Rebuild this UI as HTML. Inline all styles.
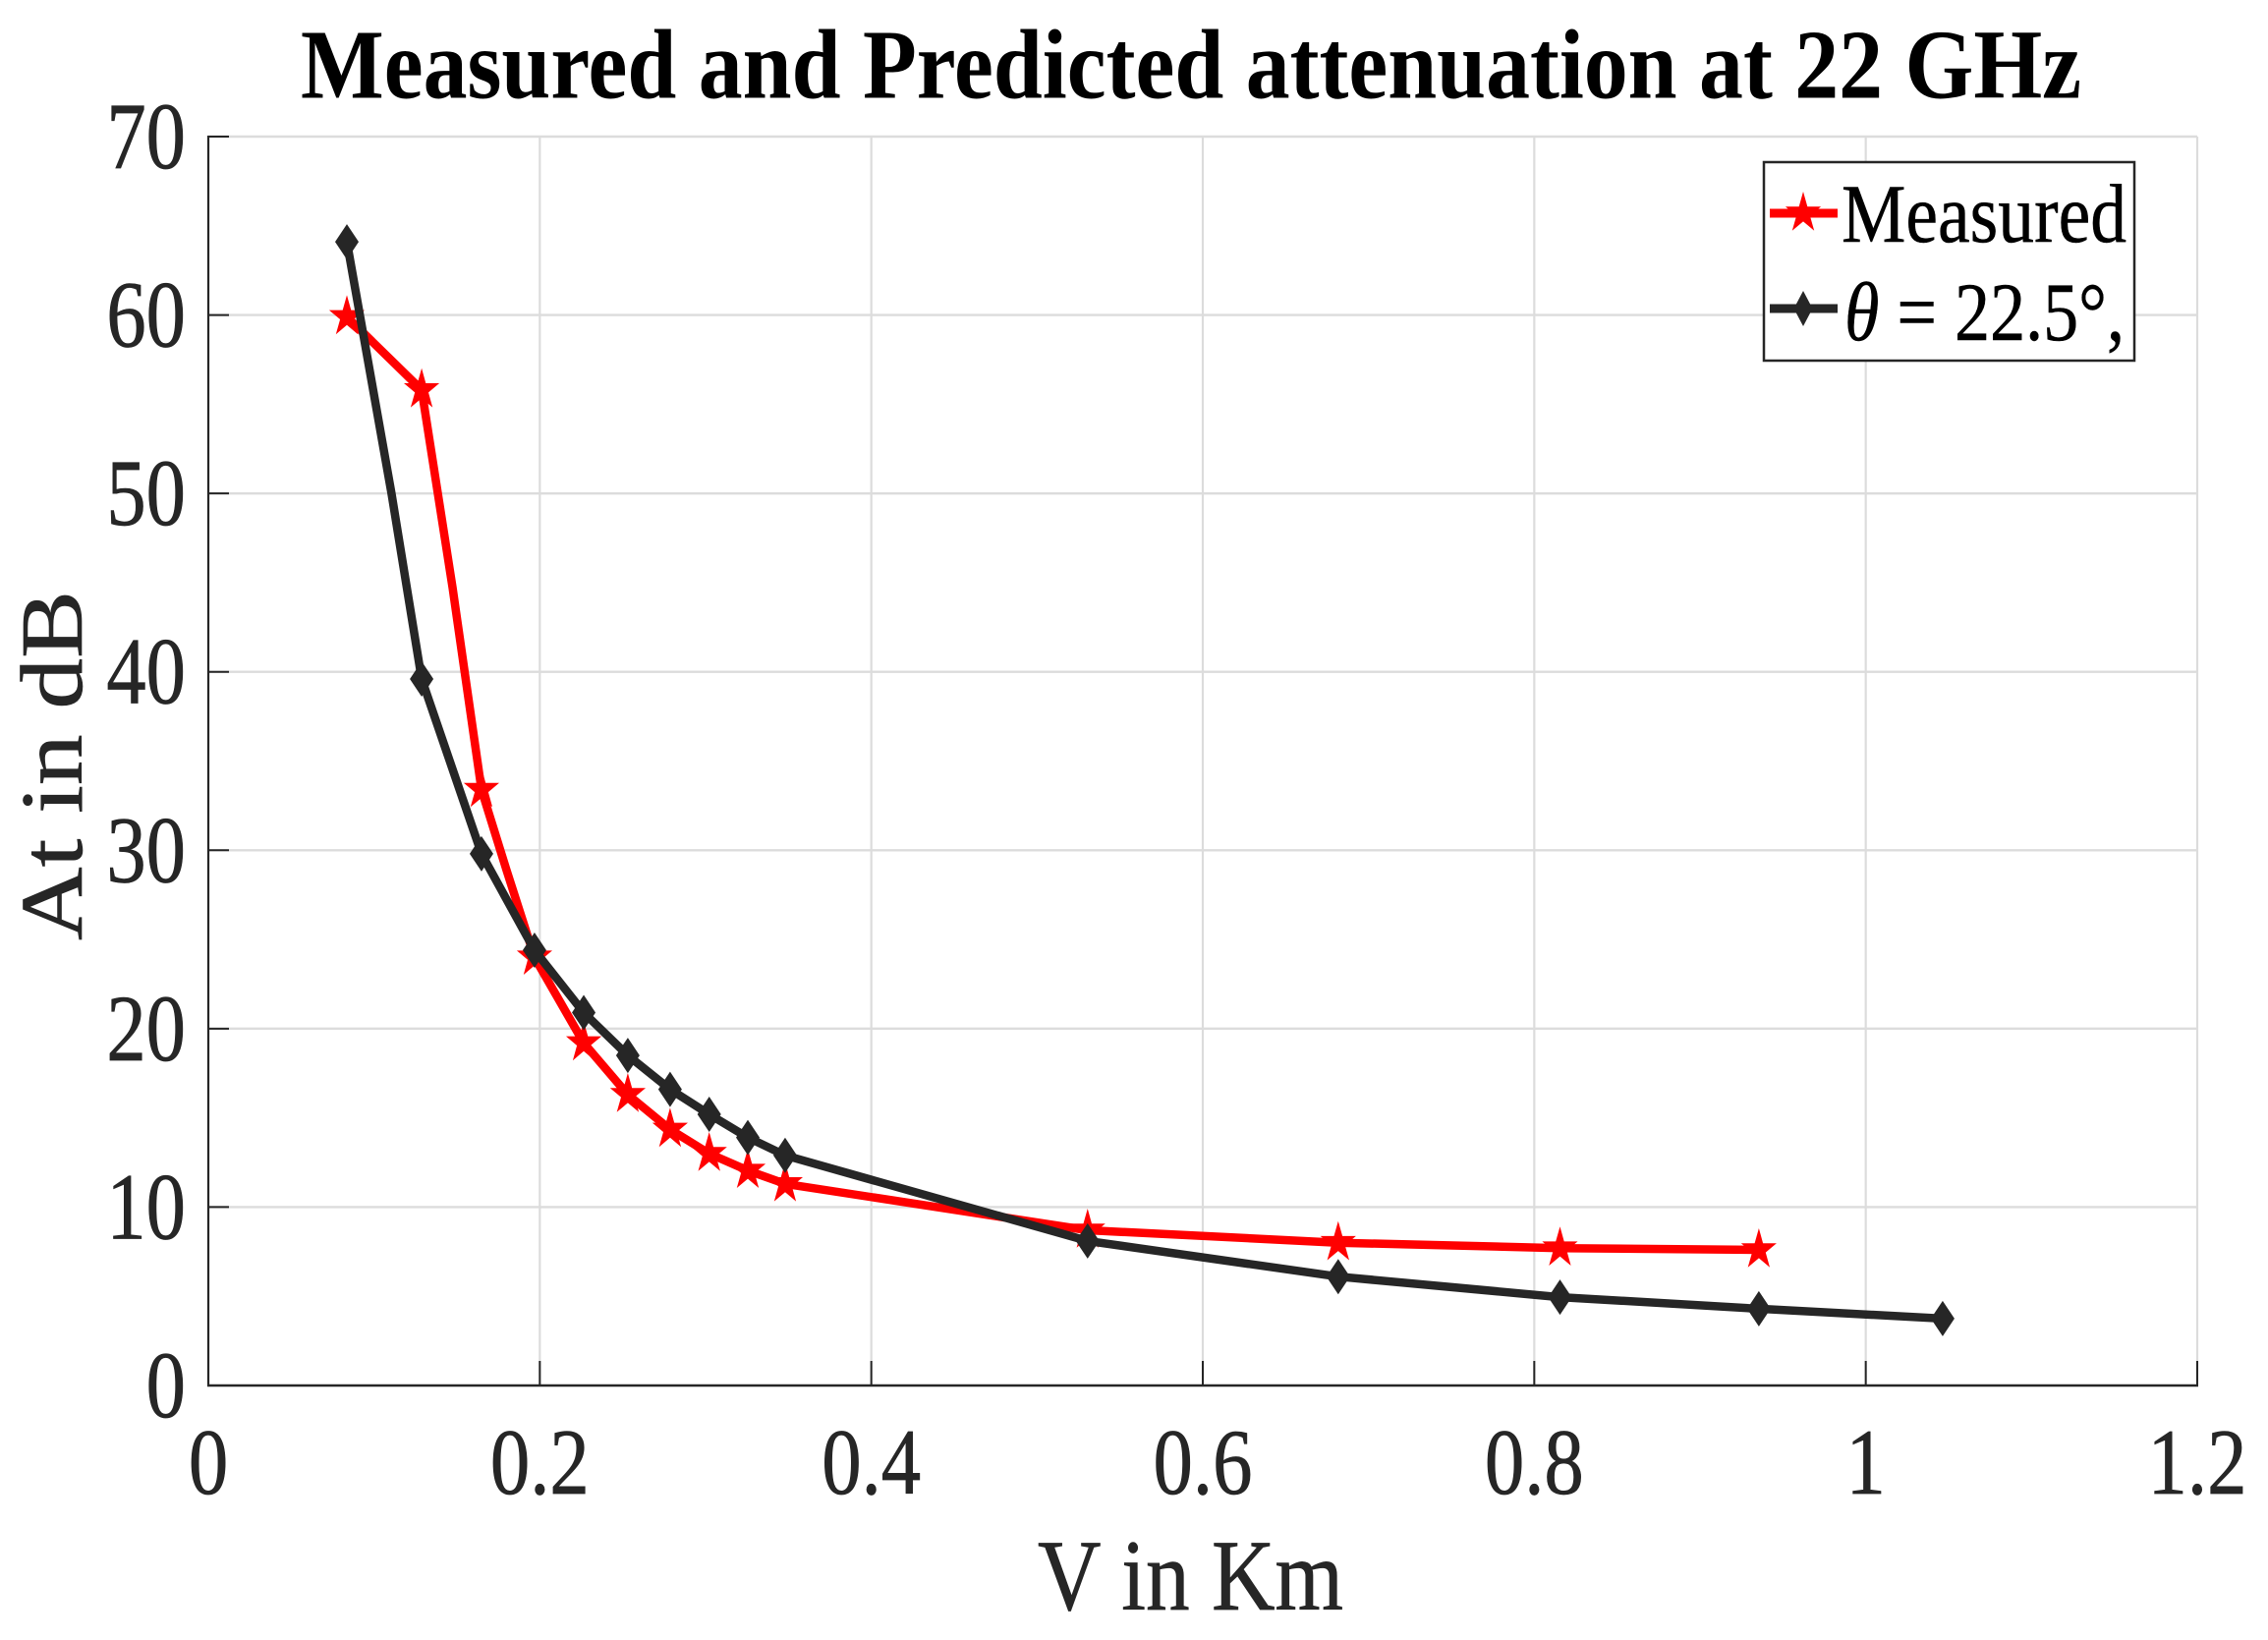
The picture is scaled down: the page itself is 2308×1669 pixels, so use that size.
<!DOCTYPE html>
<html lang="en">
<head>
<meta charset="utf-8">
<title>Measured and Predicted attenuation at 22 GHz</title>
<style>
html,body{margin:0;padding:0;background:#fff;}
svg{display:block;}
text{font-family:"Liberation Serif","Times New Roman",serif;}
</style>
</head>
<body>
<svg id="chart" xmlns="http://www.w3.org/2000/svg" width="2308" height="1669" viewBox="0 0 2308 1669">
  <rect x="0" y="0" width="2308" height="1669" fill="#ffffff"/>
  <g id="grid"></g>
  <g id="axes"></g>
  <g id="series"></g>
  <text x="306" y="99.5" font-size="101" font-weight="bold" fill="#000" textLength="1812" lengthAdjust="spacingAndGlyphs">Measured and Predicted attenuation at 22 GHz</text>
  <text x="1056" y="1638" font-size="103" fill="#262626" stroke="#262626" stroke-width="0.7" textLength="311" lengthAdjust="spacingAndGlyphs">V in Km</text>
  <text transform="translate(83,957) rotate(-90) scale(1,0.87)" font-size="103" fill="#262626" stroke="#262626" stroke-width="0.7" textLength="356" lengthAdjust="spacingAndGlyphs">At in dB</text>
  <g id="legend">
    <rect x="1795" y="165" width="377" height="202" fill="#fff" stroke="#262626" stroke-width="2.5"/>
    <line x1="1801" y1="217" x2="1870" y2="217" stroke="#ff0000" stroke-width="9"/>
    <polygon id="legend-star" fill="#ff0000"/>
    <text x="1874" y="246" font-size="85" fill="#000" stroke="#000" stroke-width="0.5" textLength="290" lengthAdjust="spacingAndGlyphs">Measured</text>
    <line x1="1801" y1="314" x2="1870" y2="314" stroke="#262626" stroke-width="9"/>
    <polygon id="legend-diamond" fill="#262626"/>
    <text x="1877" y="346" font-size="85" fill="#000" stroke="#000" stroke-width="0.5" textLength="285" lengthAdjust="spacingAndGlyphs"><tspan font-style="italic">θ</tspan> = 22.5°,</text>
  </g>
</svg>
<script>
const xTicks = [0, 0.2, 0.4, 0.6, 0.8, 1, 1.2];
const xTickLabels = ['0', '0.2', '0.4', '0.6', '0.8', '1', '1.2'];
const yTicks = [0, 10, 20, 30, 40, 50, 60, 70];
const yTickLabels = ['0', '10', '20', '30', '40', '50', '60', '70'];
const measuredX = [0.0836, 0.1287, 0.1648, 0.1968, 0.2265, 0.2531, 0.2786, 0.3022, 0.3255, 0.348, 0.5305, 0.6817, 0.8155, 0.9355];
const measuredY = [59.9, 55.8, 33.4, 24.0, 19.2, 16.3, 14.35, 13.0, 12.05, 11.3, 8.7, 8.0, 7.7, 7.6];
const predictedX = [0.0836, 0.1287, 0.1648, 0.1968, 0.2265, 0.2531, 0.2786, 0.3022, 0.3255, 0.348, 0.5305, 0.6817, 0.8155, 0.9355, 1.0464];
const predictedY = [64.1, 39.6, 29.8, 24.4, 20.9, 18.5, 16.6, 15.2, 13.9, 12.9, 8.1, 6.1, 4.95, 4.3, 3.75];
const measuredBendX = [0.1474, 0.1797];
const measuredBendY = [44.7, 28.95];
const predictedBendX = [0.1105];
const predictedBendY = [50.0];

const NS = 'http://www.w3.org/2000/svg';
const plot = {left: 212, right: 2236, top: 139, bottom: 1410};
const xDomain = [0, 1.2];
const yDomain = [0, 70];
function xScale(v) {
  return plot.left + (v - xDomain[0]) / (xDomain[1] - xDomain[0]) * (plot.right - plot.left);
}
function yScale(v) {
  return plot.bottom - (v - yDomain[0]) / (yDomain[1] - yDomain[0]) * (plot.bottom - plot.top);
}
function make(tag, attrs, parent) {
  const el = document.createElementNS(NS, tag);
  for (const k in attrs) el.setAttribute(k, attrs[k]);
  parent.appendChild(el);
  return el;
}
function starPoints(cx, cy, rx, ry) {
  const pts = [];
  for (let i = 0; i < 10; i++) {
    const a = -Math.PI / 2 + i * Math.PI / 5;
    const f = i % 2 === 0 ? 1 : 0.382;
    pts.push((cx + rx * f * Math.cos(a)).toFixed(1) + ',' + (cy + ry * f * Math.sin(a)).toFixed(1));
  }
  return pts.join(' ');
}
function diamondPoints(cx, cy, rx, ry) {
  return [[cx, cy - ry], [cx + rx, cy], [cx, cy + ry], [cx - rx, cy]].map(p => p.join(',')).join(' ');
}

const gridG = document.getElementById('grid');
const axesG = document.getElementById('axes');
const seriesG = document.getElementById('series');
const GRID = '#dcdcdc';
const AXIS = '#262626';

xTicks.forEach(function (t, i) {
  const x = xScale(t);
  if (t !== 0) {
    const g = make('line', {x1: x, y1: plot.top, x2: x, y2: plot.bottom, stroke: GRID, 'stroke-width': 2.2}, gridG);
    
    
  }
  const tick = make('line', {x1: x, y1: plot.bottom, x2: x, y2: plot.bottom - 25, stroke: AXIS, 'stroke-width': 2}, axesG);
  
  
  const label = make('text', {transform: 'translate(' + x + ',1520) scale(0.85,1)', 'text-anchor': 'middle', 'font-size': 95, fill: AXIS, stroke: AXIS, 'stroke-width': 0.7}, axesG);
  label.textContent = xTickLabels[i];
  
  
});

yTicks.forEach(function (t, i) {
  const y = yScale(t);
  if (t !== 0) {
    const g = make('line', {x1: plot.left, y1: y, x2: plot.right, y2: y, stroke: GRID, 'stroke-width': 2.4}, gridG);
    
    
  }
  const tick = make('line', {x1: plot.left, y1: y, x2: plot.left + 21, y2: y, stroke: AXIS, 'stroke-width': 2}, axesG);
  
  
  const label = make('text', {transform: 'translate(189,' + (y + 32) + ') scale(0.84,1)', 'text-anchor': 'end', 'font-size': 96, fill: AXIS, stroke: AXIS, 'stroke-width': 0.7}, axesG);
  label.textContent = yTickLabels[i];
  
  
});

const xAxisLine = make('line', {x1: plot.left - 1, y1: plot.bottom, x2: plot.right + 1, y2: plot.bottom, stroke: AXIS, 'stroke-width': 2.4}, axesG);


const yAxisLine = make('line', {x1: plot.left, y1: plot.top - 1, x2: plot.left, y2: plot.bottom + 1, stroke: AXIS, 'stroke-width': 2.2}, axesG);



function linePath(xs, ys, bendXs, bendYs) {
  const verts = xs.map(function (v, i) { return [v, ys[i]]; });
  bendXs.forEach(function (v, i) { verts.push([v, bendYs[i]]); });
  verts.sort(function (a, b) { return a[0] - b[0]; });
  return verts.map(function (p) { return xScale(p[0]).toFixed(1) + ',' + yScale(p[1]).toFixed(1); }).join(' ');
}

const measuredLine = make('polyline', {points: linePath(measuredX, measuredY, measuredBendX, measuredBendY), fill: 'none', stroke: '#ff0000', 'stroke-width': 8.5, 'stroke-linejoin': 'round'}, seriesG);


measuredX.forEach(function (v, i) {
  const m = make('polygon', {points: starPoints(xScale(v), yScale(measuredY[i]), 19, 22), fill: '#ff0000'}, seriesG);
  
  
});

const predictedLine = make('polyline', {points: linePath(predictedX, predictedY, predictedBendX, predictedBendY), fill: 'none', stroke: '#262626', 'stroke-width': 8.5, 'stroke-linejoin': 'round'}, seriesG);


predictedX.forEach(function (v, i) {
  const m = make('polygon', {points: diamondPoints(xScale(v), yScale(predictedY[i]), 12, 18), fill: '#262626'}, seriesG);
  
  
});

document.getElementById('legend-star').setAttribute('points', starPoints(1835, 217, 19, 22));
document.getElementById('legend-diamond').setAttribute('points', diamondPoints(1835, 314, 9.5, 18));
</script>
</body>
</html>
